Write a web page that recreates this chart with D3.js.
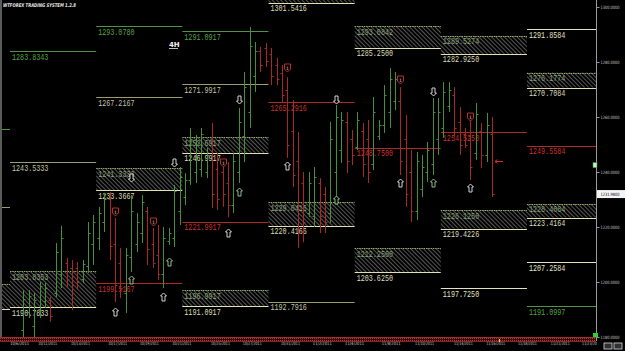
<!DOCTYPE html>
<html>
<head>
<meta charset="utf-8">
<title>WTFOREX 4H</title>
<script src="https://cdn.jsdelivr.net/npm/d3@7"></script>
<style>
  body { margin: 0; background: #000; overflow: hidden; }
  svg { display: block; }
  .levelLabel { font-family: "Liberation Mono", "DejaVu Sans Mono", monospace; font-size: 9px; }
  .tiny { font-family: "DejaVu Sans", sans-serif; font-size: 4.5px; fill: #c8c8c8; }
</style>
</head>
<body>
<div id="chart"></div>
<script>
//////////////////// values ///////////////////

// OHLC bars, first one sits at bar index 2 (16 bars per week)
const barStart = 2;
const barHigh = [1197.1, 1197.1, 1196.0, 1200.0, 1199.6, 1194.5, 1214.2, 1220.4, 1208.7, 1208.0, 1207.3, 1208.0, 1221.8, 1224.4,
  1227.3, 1232.4, 1232.7, 1223.3, 1212.4, 1212.4, 1231.6, 1225.1, 1231.6, 1227.3, 1219.6, 1220.7, 1220.0, 1219.6, 1235.3, 1241.8,
  1239.6, 1256.0, 1253.5, 1256.0, 1248.7, 1257.8, 1246.9, 1244.4, 1243.6, 1246.9, 1263.3, 1276.4, 1292.7, 1287.3, 1285.5, 1286.9,
  1285.1, 1281.5, 1278.9, 1274.5, 1266.2, 1254.5, 1240.0, 1240.0, 1241.8, 1237.8, 1234.5, 1258.2, 1264.4, 1261.8, 1261.8, 1255.3,
  1261.8, 1257.8, 1258.9, 1267.3, 1258.9, 1271.6, 1277.8, 1276.4, 1270.9, 1260.7, 1248.0, 1247.3, 1246.2, 1250.9, 1266.9, 1266.9,
  1272.7, 1272.7, 1270.9, 1263.6, 1256.0, 1260.7, 1265.1, 1257.8, 1261.5, 1260.0];
const barLow = [1180.0, 1186.9, 1180.0, 1186.9, 1190.5, 1185.5, 1194.5, 1197.8, 1198.2, 1189.8, 1197.1, 1199.6, 1203.3, 1206.2,
  1211.6, 1218.2, 1208.0, 1192.7, 1194.2, 1188.7, 1203.6, 1210.9, 1214.2, 1206.2, 1205.1, 1200.7, 1197.8, 1213.5, 1212.7, 1220.7,
  1228.0, 1235.3, 1236.0, 1238.2, 1237.8, 1226.9, 1226.2, 1227.3, 1223.6, 1225.1, 1236.0, 1243.6, 1256.0, 1269.1, 1276.4, 1278.2,
  1271.6, 1271.6, 1265.1, 1245.1, 1234.5, 1212.4, 1214.5, 1223.6, 1220.0, 1217.8, 1217.8, 1221.5, 1229.8, 1243.3, 1239.6, 1242.5,
  1248.0, 1238.2, 1236.0, 1240.7, 1251.6, 1254.2, 1256.0, 1262.5, 1238.9, 1227.3, 1221.8, 1222.5, 1230.9, 1236.4, 1238.9, 1246.2,
  1252.4, 1261.8, 1252.7, 1246.2, 1248.7, 1237.1, 1244.4, 1241.5, 1243.6, 1230.9];
const barOpen = [1182.5, 1189.0, 1184.0, 1190.0, 1193.0, 1193.5, 1196.0, 1203.0, 1207.0, 1205.0, 1205.0, 1201.0, 1206.0, 1214.0,
  1216.0, 1222.0, 1230.0, 1214.0, 1207.0, 1196.0, 1209.0, 1214.0, 1218.0, 1226.0, 1214.0, 1210.0, 1203.0, 1215.0, 1216.0, 1226.0,
  1231.0, 1237.0, 1240.0, 1241.0, 1240.0, 1252.0, 1241.0, 1240.0, 1236.0, 1228.0, 1240.0, 1253.0, 1262.0, 1275.0, 1284.0, 1285.0,
  1283.0, 1279.0, 1276.0, 1270.0, 1255.0, 1244.0, 1236.0, 1225.0, 1224.0, 1236.0, 1232.0, 1225.0, 1240.0, 1248.0, 1258.0, 1252.0,
  1249.0, 1255.0, 1252.0, 1243.0, 1253.0, 1257.0, 1262.0, 1266.0, 1266.0, 1252.0, 1240.0, 1226.0, 1234.0, 1240.0, 1243.0, 1252.0,
  1256.0, 1264.0, 1268.0, 1258.0, 1254.0, 1253.0, 1247.0, 1255.0, 1246.0, 1254.0];
const barClose = [1194.0, 1195.0, 1193.5, 1198.5, 1198.0, 1187.5, 1211.0, 1216.0, 1201.0, 1199.0, 1200.0, 1206.5, 1218.0, 1222.0,
  1225.0, 1230.0, 1213.0, 1199.0, 1198.0, 1210.0, 1226.0, 1222.0, 1229.0, 1212.0, 1207.0, 1203.0, 1216.0, 1218.0, 1233.0, 1238.0,
  1237.0, 1252.0, 1250.0, 1254.0, 1246.0, 1232.0, 1230.0, 1232.0, 1228.0, 1244.0, 1258.0, 1271.0, 1286.0, 1284.0, 1279.0, 1280.5,
  1275.0, 1274.0, 1268.0, 1250.0, 1239.0, 1218.0, 1222.0, 1236.0, 1238.0, 1224.0, 1222.0, 1252.0, 1260.0, 1259.0, 1244.0, 1246.0,
  1259.0, 1243.0, 1240.0, 1262.0, 1257.0, 1268.0, 1274.0, 1274.0, 1244.0, 1232.0, 1226.0, 1244.0, 1242.0, 1248.0, 1262.0, 1262.0,
  1269.0, 1270.0, 1256.0, 1250.0, 1250.0, 1242.0, 1261.0, 1246.0, 1257.0, 1231.98];

// weekly levels: [week, price, kind]   (week -1 is the cut off one on the left)
const levelLines = [
  [-1, 1255.6, "green"], [-1, 1227.3, "khaki"],
  [0, 1283.8343, "green"], [0, 1243.5333, "khaki"],
  [1, 1293.078, "green"], [1, 1267.2167, "khaki"], [1, 1199.5167, "red"],
  [2, 1291.0917, "green"], [2, 1271.9917, "khaki"], [2, 1221.9917, "red"],
  [3, 1265.2916, "red"], [3, 1192.7916, "khaki"],
  [4, 1248.75, "red"],
  [5, 1254.525, "red"], [5, 1197.725, "cream"],
  [6, 1291.8584, "cream"], [6, 1249.5584, "red"], [6, 1207.2584, "cream"], [6, 1191.0997, "green"]
];

// hatched zones: [week, top, bottom]
const zones = [
  [-1, 1199.3, 1190.2],
  [0, 1203.8353, 1190.7833],
  [1, 1241.3333, 1233.3667],
  [2, 1252.6917, 1246.9917], [2, 1196.9917, 1191.0917],
  [3, 1304.5, 1301.5416], [3, 1229.0416, 1220.4166],
  [4, 1293.0842, 1285.25], [4, 1212.25, 1203.625],
  [5, 1289.5274, 1282.925], [5, 1226.125, 1219.4226],
  [6, 1276.1774, 1270.7084], [6, 1228.4084, 1223.4164]
];

// signal markers: [bar index, price]
const upArrows = [[19, 1189.1], [28, 1194.5], [40, 1217.8], [51, 1242.2], [72, 1236.0], [85, 1234.2]];
const greenUpArrows = [[22, 1200.7], [29, 1207.3], [42, 1232.7], [60, 1229.8], [78, 1236.0]];
const downArrows = [[22, 1237.8], [30, 1243.3], [42, 1266.2], [60, 1266.2], [78, 1269.1]];
const redMarks = [[19, 1225.5], [26, 1221.8], [39, 1243.3], [51, 1277.8], [72, 1273.5], [85, 1260.0]];

// axes
const priceTicks = [1180, 1200, 1220, 1240, 1260, 1280, 1300];
const lastPrice = 1231.98;
const dateTicks = [1.2, 6.4, 12.5, 19.4, 25.3, 31.3, 38.5, 44.4, 51.5, 57.4, 63.4, 70.2, 76.4, 83.6, 89.6, 95.5, 101.6, 107.4];
const dateLabels = ["10/6/2011", "10/11/2011", "10/13/2011", "10/17/2011", "10/19/2011", "10/21/2011", "10/25/2011",
  "10/27/2011", "10/31/2011", "11/2/2011", "11/4/2011", "11/8/2011", "11/10/2011", "11/14/2011", "11/16/2011",
  "11/18/2011", "11/21/2011", "11/23/2011"];

const lineColours = { green: "#4f9442", khaki: "#9c9c6c", cream: "#e4e4bc", red: "#b02828" };
const labelColours = { green: "#5aa04a", khaki: "#c4c4a8", cream: "#e4e4c4", red: "#c83232" };

//////////////////// chart setup ///////////////////
const width = 625, height = 351;
const plotRight = 596, plotBottom = 337;
// level labels are squeezed sideways to look like the narrow terminal font
const labelSqueeze = 0.75;

const svg = d3.select("#chart")
  .append("svg")
  .attr("width", width)
  .attr("height", height)
  .style("background", "#000");

const defs = svg.append("defs");

// diagonal hatching for the zones
const hatch = defs.append("pattern")
  .attr("id", "hatch")
  .attr("width", 3)
  .attr("height", 3)
  .attr("patternUnits", "userSpaceOnUse")
  .attr("patternTransform", "rotate(-45)");
hatch.append("line")
  .attr("x1", 0).attr("y1", 0).attr("x2", 0).attr("y2", 3)
  .attr("stroke", "#8e8e8e")
  .attr("stroke-width", 1.2);

// dotted maroon band under the plot
const dots = defs.append("pattern")
  .attr("id", "dots")
  .attr("width", 2)
  .attr("height", 2)
  .attr("patternUnits", "userSpaceOnUse");
dots.append("rect").attr("width", 2).attr("height", 2).attr("fill", "#3c0a0a");
dots.append("rect").attr("width", 1).attr("height", 1).attr("fill", "#b03434");

defs.append("clipPath")
  .attr("id", "plotClip")
  .append("rect")
  .attr("x", 2).attr("y", 0)
  .attr("width", plotRight - 2)
  .attr("height", plotBottom);

defs.append("clipPath")
  .attr("id", "dateClip")
  .append("rect")
  .attr("x", 0).attr("y", plotBottom)
  .attr("width", plotRight + 1)
  .attr("height", height - plotBottom);

// bar index -> x, price -> y
const x = d3.scaleLinear().domain([-0.5, 111.5]).range([10, 10 + 112 * 5.385]);
const y = d3.scaleLinear().domain([1180, 1300]).range([plotBottom, 7]);
const crisp = (v) => Math.round(v) + 0.5;
const weekStart = (w) => x(w * 16 - 0.5);
const weekEnd = (w) => x(w * 16 + 15.5);

const plot = svg.append("g").attr("clip-path", "url(#plotClip)");

// puts a level value under (or inside) its line, at the left of its week
function levelText(sel, priceOf, colourOf) {
  sel.enter()
    .append("text")
    .attr("class", "levelLabel")
    .attr("transform", (d) => `translate(${weekStart(d[0]) + 2},${y(priceOf(d)) + 8.5}) scale(${labelSqueeze},1)`)
    .attr("fill", colourOf)
    .text((d) => priceOf(d).toFixed(4));
}

//////////////////// zones ///////////////////
plot.selectAll(".zone")
  .data(zones)
  .enter()
  .append("rect")
  .attr("class", "zone")
  .attr("x", (d) => weekStart(d[0]))
  .attr("width", (d) => weekEnd(d[0]) - weekStart(d[0]))
  .attr("y", (d) => y(d[1]))
  .attr("height", (d) => y(d[2]) - y(d[1]))
  .attr("fill", "url(#hatch)");

plot.selectAll(".zoneTop")
  .data(zones)
  .enter()
  .append("line")
  .attr("x1", (d) => weekStart(d[0]))
  .attr("x2", (d) => weekEnd(d[0]))
  .attr("y1", (d) => crisp(y(d[1])))
  .attr("y2", (d) => crisp(y(d[1])))
  .attr("stroke", "#93ad64")
  .attr("stroke-dasharray", "1.5,0.8");

plot.selectAll(".zoneBottom")
  .data(zones)
  .enter()
  .append("line")
  .attr("x1", (d) => weekStart(d[0]))
  .attr("x2", (d) => weekEnd(d[0]))
  .attr("y1", (d) => crisp(y(d[2])))
  .attr("y2", (d) => crisp(y(d[2])))
  .attr("stroke", "#e0e0b0");

// labels only for the weeks whose left edge is on screen
const shownZones = zones.filter((d) => d[0] >= 0);

//top label inside the zone (skip the one above the window)
levelText(
  plot.selectAll(".zoneTopLabel").data(shownZones.filter((d) => d[1] < 1300)),
  (d) => d[1],
  "#8aa27a"
);
levelText(
  plot.selectAll(".zoneBottomLabel").data(shownZones),
  (d) => d[2],
  "#dcdcbc"
);

//////////////////// weekly level lines ///////////////////
plot.selectAll(".level")
  .data(levelLines)
  .enter()
  .append("line")
  .attr("x1", (d) => weekStart(d[0]))
  .attr("x2", (d) => weekEnd(d[0]))
  .attr("y1", (d) => crisp(y(d[1])))
  .attr("y2", (d) => crisp(y(d[1])))
  .attr("stroke", (d) => lineColours[d[2]]);

levelText(
  plot.selectAll(".lineLabel").data(levelLines.filter((d) => d[0] >= 0)),
  (d) => d[1],
  (d) => labelColours[d[2]]
);

//////////////////// OHLC bars ///////////////////
const bars = barHigh.map((h, k) => ({
  i: barStart + k, h: h, l: barLow[k], o: barOpen[k], c: barClose[k]
}));
const barColour = (d) => (d.c >= d.o ? "#47903a" : "#a82828");

const barG = plot.selectAll(".bar")
  .data(bars)
  .enter()
  .append("g")
  .attr("class", "bar")
  .attr("stroke", barColour);

barG.append("line")
  .attr("x1", (d) => crisp(x(d.i)))
  .attr("x2", (d) => crisp(x(d.i)))
  .attr("y1", (d) => y(d.h))
  .attr("y2", (d) => y(d.l));
barG.append("line")
  .attr("x1", (d) => crisp(x(d.i)) - 2)
  .attr("x2", (d) => crisp(x(d.i)))
  .attr("y1", (d) => crisp(y(d.o)))
  .attr("y2", (d) => crisp(y(d.o)));
barG.append("line")
  .attr("x1", (d) => crisp(x(d.i)))
  .attr("x2", (d) => crisp(x(d.i)) + 2)
  .attr("y1", (d) => crisp(y(d.c)))
  .attr("y2", (d) => crisp(y(d.c)));

//////////////////// signal markers ///////////////////
const upPath = "M0,-4L3,-1L1.5,-1L1.5,4L-1.5,4L-1.5,-1L-3,-1Z";
const downPath = "M0,4L3,1L1.5,1L1.5,-4L-1.5,-4L-1.5,1L-3,1Z";
const redPath = "M-3,-4L3,-4L3,1L0,4L-3,1Z";

function drawMarks(data, path, colour) {
  plot.selectAll(null)
    .data(data)
    .enter()
    .append("path")
    .attr("d", path)
    .attr("transform", (d) => `translate(${crisp(x(d[0]))},${Math.round(y(d[1]))})`)
    .attr("fill", "#000")
    .attr("stroke", colour)
    .attr("stroke-width", 0.9);
}
drawMarks(upArrows, upPath, "#e8e8e8");
drawMarks(greenUpArrows, upPath, "#9ad49a");
drawMarks(downArrows, downPath, "#e8e8e8");
drawMarks(redMarks, redPath, "#d03030");

plot.selectAll(".redOne")
  .data(redMarks)
  .enter()
  .append("text")
  .attr("x", (d) => crisp(x(d[0])))
  .attr("y", (d) => Math.round(y(d[1])) + 1.8)
  .attr("text-anchor", "middle")
  .attr("font-family", "DejaVu Sans")
  .attr("font-size", 4.5)
  .attr("fill", "#f0c0c0")
  .text("1");

// red pointer next to the last bar
const lastIdx = barStart + barHigh.length - 1;
plot.append("path")
  .attr("d", `M${x(lastIdx) + 3},${crisp(y(1244))}H${x(lastIdx) + 11}M${x(lastIdx) + 3},${crisp(y(1244))}l2.5,-2M${x(lastIdx) + 3},${crisp(y(1244))}l2.5,2`)
  .attr("stroke", "#d03030")
  .attr("fill", "none");

//////////////////// frame ///////////////////
svg.append("line")
  .attr("x1", 1).attr("x2", 1)
  .attr("y1", 0).attr("y2", plotBottom)
  .attr("stroke", "#5a5a5a")
  .attr("stroke-width", 2);

svg.append("line")
  .attr("x1", plotRight + 0.5).attr("x2", plotRight + 0.5)
  .attr("y1", 0).attr("y2", plotBottom + 4)
  .attr("stroke", "#9a9a9a");

//////////////////// price axis ///////////////////
const yAxis = d3.axisRight(y)
  .tickValues(priceTicks)
  .tickFormat(d3.format(".4f"))
  .tickSize(3)
  .tickSizeOuter(0);

const yAxisG = svg.append("g")
  .attr("transform", `translate(${plotRight + 0.5},0)`)
  .call(yAxis);
yAxisG.select(".domain").remove();
yAxisG.selectAll("line").attr("stroke", "#9a9a9a");
yAxisG.selectAll("text")
  .attr("class", "tiny")
  .attr("x", 4)
  .attr("textLength", 19)
  .attr("lengthAdjust", "spacingAndGlyphs");

// last price box
svg.append("rect")
  .attr("x", plotRight + 1)
  .attr("y", y(lastPrice) - 4)
  .attr("width", width - plotRight - 1)
  .attr("height", 8)
  .attr("fill", "#f4f4f4");
svg.append("text")
  .attr("x", plotRight + 4.5)
  .attr("y", y(lastPrice) + 1.6)
  .attr("font-family", "DejaVu Sans")
  .attr("font-size", 4.5)
  .attr("textLength", 19)
  .attr("lengthAdjust", "spacingAndGlyphs")
  .attr("fill", "#000")
  .text(lastPrice.toFixed(4));

// small markers on the price axis
svg.append("rect")
  .attr("x", plotRight - 3).attr("y", y(1242.5) - 2.5)
  .attr("width", 4).attr("height", 5)
  .attr("fill", "#cfe8cf").attr("stroke", "#3c9a3c").attr("stroke-width", 0.6);
svg.append("rect")
  .attr("x", plotRight - 3).attr("y", y(1180) - 4)
  .attr("width", 5).attr("height", 5)
  .attr("fill", "#30d030");

//////////////////// date axis ///////////////////
svg.append("rect")
  .attr("x", 0).attr("y", plotBottom)
  .attr("width", plotRight)
  .attr("height", 5)
  .attr("fill", "url(#dots)");
svg.append("line")
  .attr("x1", 0).attr("x2", plotRight)
  .attr("y1", plotBottom + 0.5).attr("y2", plotBottom + 0.5)
  .attr("stroke", "#9c3030");
svg.append("line")
  .attr("x1", 0).attr("x2", plotRight)
  .attr("y1", plotBottom + 4.5).attr("y2", plotBottom + 4.5)
  .attr("stroke", "#7c2424");

// current time marker in the band
svg.append("rect")
  .attr("x", x(lastIdx + 1.3))
  .attr("y", plotBottom + 2)
  .attr("width", 1)
  .attr("height", 3)
  .attr("fill", "#e8e060");

const xAxis = d3.axisBottom(x)
  .tickValues(dateTicks)
  .tickFormat((d, i) => dateLabels[i])
  .tickSize(0);

const xAxisG = svg.append("g")
  .attr("clip-path", "url(#dateClip)")
  .append("g")
  .attr("transform", `translate(0,${plotBottom + 6})`)
  .call(xAxis);
xAxisG.select(".domain").remove();
xAxisG.selectAll("text")
  .attr("class", "tiny")
  .attr("dy", "0.55em")
  .attr("y", 0)
  .attr("textLength", 19)
  .attr("lengthAdjust", "spacingAndGlyphs");

// window icons bottom right
[604, 614].forEach((ix) => {
  svg.append("rect")
    .attr("x", ix).attr("y", 343)
    .attr("width", 8).attr("height", 6)
    .attr("fill", "#303030").attr("stroke", "#d8d8d8").attr("stroke-width", 0.8);
});

//////////////////// titles ///////////////////
svg.append("text")
  .attr("x", 3)
  .attr("y", 7)
  .attr("font-family", "DejaVu Sans")
  .attr("font-size", 5)
  .attr("font-weight", "bold")
  .attr("font-style", "italic")
  .attr("textLength", 73)
  .attr("lengthAdjust", "spacingAndGlyphs")
  .attr("fill", "#e8e8e8")
  .text("WTFOREX TRADING SYSTEM 1.2.8");

svg.append("text")
  .attr("x", 169)
  .attr("y", 47)
  .attr("font-family", "DejaVu Sans")
  .attr("font-size", 7)
  .attr("font-weight", "bold")
  .attr("fill", "#f0f0f0")
  .text("4H");
svg.append("line")
  .attr("x1", 169).attr("x2", 178)
  .attr("y1", 48.5).attr("y2", 48.5)
  .attr("stroke", "#f0f0f0")
  .attr("stroke-width", 0.8);
</script>
</body>
</html>
